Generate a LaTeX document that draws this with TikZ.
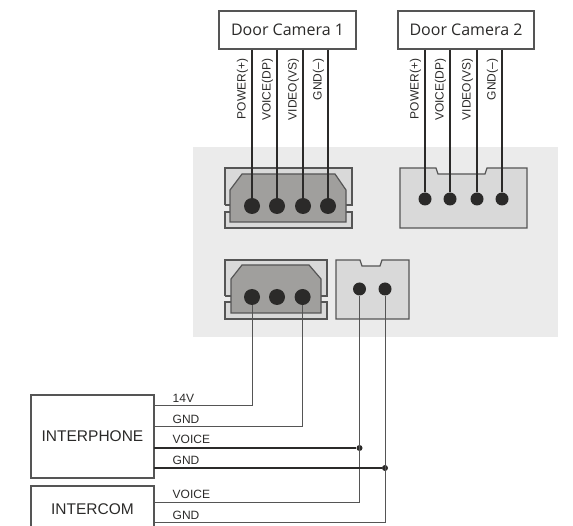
\documentclass[tikz,border=0pt]{standalone}
\usepackage{fontspec}
\usetikzlibrary{calc}
\setmainfont{Liberation Sans}
\newfontfamily\camfont{Open Sans}
\definecolor{panelgray}{HTML}{EBEBEB}
\definecolor{shellgray}{HTML}{D9D9D9}
\definecolor{coregray}{HTML}{A09F9D}
\definecolor{inkgray}{HTML}{2B2A29}
\definecolor{thingray}{HTML}{555555}
\tikzset{
  unitbox/.style={draw=thingray,line width=1.1pt,fill=white,inner sep=0pt,text=inkgray},
  pinbig/.style={circle,fill=inkgray,minimum size=16pt,inner sep=0pt},
  pinsmall/.style={circle,fill=inkgray,minimum size=13pt,inner sep=0pt},
  pinjoin/.style={circle,fill=inkgray,minimum size=6pt,inner sep=0pt},
  shell/.style={draw=thingray,line width=1.2pt,fill=shellgray},
  core/.style={draw=thingray,line width=1.2pt,fill=coregray},
  wire/.style={draw=inkgray,line width=1.3pt},
  thinwire/.style={draw=thingray,line width=1pt},
  busline/.style={draw=inkgray,line width=1.5pt},
  sig/.style={font=\fontsize{12}{14}\selectfont,text=inkgray,rotate=90,anchor=east,inner sep=0pt},
  tag/.style={font=\fontsize{12}{14}\selectfont,text=inkgray,anchor=west,inner sep=0pt},
}
\begin{document}
\begin{tikzpicture}[x=1pt,y=-1pt]
  \useasboundingbox (0,0) rectangle (573,526);
  % grey board
  \fill[panelgray] (193,147) rectangle (558,337);
  % door cameras
  \node[unitbox,minimum width=137pt,minimum height=38pt] (cama) at (287.5,30)
    {\camfont\fontsize{16}{18}\selectfont Door Camera 1};
  \node[unitbox,minimum width=136pt,minimum height=38pt] (camb) at (466,30)
    {\camfont\fontsize{16}{18}\selectfont Door Camera 2};
  % four pin socket, camera 1
  \fill[shellgray] (225,168) rectangle (352,228);
  \draw[shell,fill=none] (225,205) -- (225,168) -- (352,168) -- (352,205) -- (346,205);
  \draw[shell,fill=none] (230,205) -- (225,205);
  \draw[shell,fill=none] (230,212) -- (225,212) -- (225,228) -- (352,228) -- (352,212) -- (346,212);
  \fill[panelgray] (225,205.6) rectangle (229.4,211.4);
  \fill[panelgray] (346.6,205.6) rectangle (352,211.4);
  \draw[core] (230,190) -- (242,174) -- (335,174) -- (346,190) -- (346,222) -- (230,222) -- cycle;
  % four pin socket, camera 2
  \draw[shell] (400,168) -- (436,168) -- (438,174) -- (485,174) -- (487,168) -- (527,168)
    -- (527,228) -- (400,228) -- cycle;
  % three pin socket
  \fill[shellgray] (225,260) rectangle (327,319);
  \draw[shell,fill=none] (225,296) -- (225,260) -- (327,260) -- (327,296) -- (321,296);
  \draw[shell,fill=none] (231,296) -- (225,296);
  \draw[shell,fill=none] (231,302) -- (225,302) -- (225,319) -- (327,319) -- (327,302) -- (321,302);
  \fill[panelgray] (225,296.6) rectangle (230.4,301.4);
  \fill[panelgray] (321.6,296.6) rectangle (327,301.4);
  \draw[core] (231,279) -- (242,265) -- (309,265) -- (321,279) -- (321,313) -- (231,313) -- cycle;
  % two pin socket
  \draw[shell] (336,260) -- (360,260) -- (362,266) -- (380,266) -- (382,260) -- (409,260)
    -- (409,319) -- (336,319) -- cycle;
  % pins
  \foreach \n/\x in {a/252,b/277,c/303,d/328}
    \node[pinbig] (pa\n) at (\x,206) {};
  \foreach \n/\x in {a/425,b/450,c/477,d/502}
    \node[pinsmall] (pb\n) at (\x,199) {};
  \foreach \n/\x in {a/252,b/277,c/302.6}
    \node[pinbig] (pc\n) at (\x,297) {};
  \foreach \n/\x in {a/359.5,b/385}
    \node[pinsmall] (pd\n) at (\x,289) {};
  % camera wires
  \foreach \n in {a,b,c,d} {
    \draw[wire] (cama.south -| pa\n) -- (pa\n);
    \draw[wire] (camb.south -| pb\n) -- (pb\n);
  }
  % signal names
  \foreach \n/\t in {a/POWER(+),b/VOICE(DP),c/VIDEO(VS),d/GND(--)} {
    \node[sig] (sa\n) at ($(pa\n |- cama.south)+(-9.5,9)$) {\t};
    \node[sig] (sb\n) at ($(pb\n |- camb.south)+(-9.5,9)$) {\t};
  }
  % units below the board
  \node[unitbox,minimum width=123pt,minimum height=83pt] (iphone) at (92.5,436.5)
    {\raisebox{-1.5pt}{\fontsize{15.5}{18}\selectfont INTERPHONE}};
  \draw[unitbox,fill=none] (31,526) -- (31,486) -- (154,486) -- (154,526);
  \node[text=inkgray,inner sep=0pt] (icom) at (92.5,509.5)
    {\fontsize{15.5}{18}\selectfont INTERCOM};
  \coordinate (icomv) at (154,502);
  \coordinate (icomg) at (154,522);
  \coordinate (iph14) at (154,406);
  \coordinate (iphg) at (154,427);
  \coordinate (iphv) at (154,448);
  \coordinate (iphb) at (154,468);
  \node[pinjoin] (joinv) at (359.5,448) {};
  \node[pinjoin] (joing) at (385,468) {};
  % lower wiring
  \draw[thinwire] (iph14) -| (pca);
  \draw[thinwire] (iphg) -| (pcc);
  \draw[thinwire] (icomv) -| (pda);
  \draw[thinwire] (icomg) -| (pdb);
  \draw[busline] (iphv) -- (joinv);
  \draw[busline] (iphb) -- (joing);
  % line names
  \node[tag] (ta) at (172.5,398) {14V};
  \node[tag] (tb) at (172.5,419) {GND};
  \node[tag] (tc) at (172.5,439.5) {VOICE};
  \node[tag] (td) at (172.5,460) {GND};
  \node[tag] (te) at (172.5,494) {VOICE};
  \node[tag] (tf) at (172.5,515) {GND};
\end{tikzpicture}
\end{document}
